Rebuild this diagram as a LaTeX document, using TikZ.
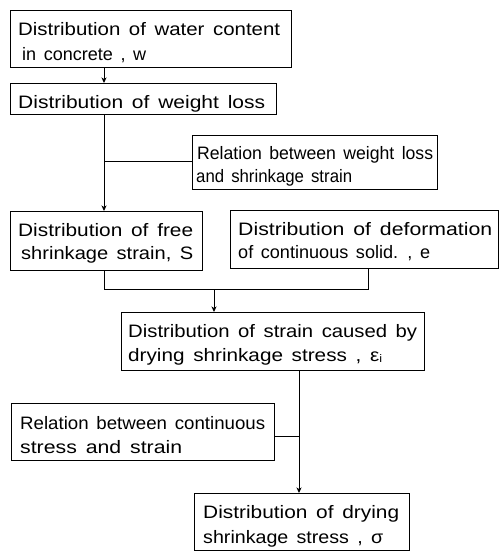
\documentclass[tikz,border=0pt]{standalone}
\usepackage{fontspec}
\usepackage{graphicx}
\setmainfont{Liberation Sans}
\usetikzlibrary{arrows.meta}
\newsavebox\fitbox
\newcommand\fitline[2]{\sbox\fitbox{\spaceskip=0.42em\relax #2}%
  \pgfmathsetmacro\fitsx{#1/\the\wd\fitbox}%
  \scalebox{\fitsx}[1]{\usebox\fitbox}}
\newcommand\subi{{\fontsize{11}{11}\selectfont\raisebox{-1.5pt}{i}}}
\tikzset{
  box/.style={draw, line width=0.9pt, inner sep=0pt, anchor=north west},
  lbl/.style={inner sep=0pt, anchor=base west, font=\fontsize{18}{22}\selectfont},
  conn/.style={line width=0.9pt},
  arr/.style={conn, -{Stealth[length=5.5pt,width=5pt,inset=1.5pt]}}
}
\begin{document}
\begin{tikzpicture}[x=1pt,y=-1pt]
\useasboundingbox (0,0) rectangle (502,551);
% boxes
\node[box, minimum width=281pt, minimum height=57pt] (b1) at (10,10) {};
\node[box, minimum width=266pt, minimum height=31pt] (b2) at (10,83) {};
\node[box, minimum width=245pt, minimum height=54pt] (b3) at (192,135) {};
\node[box, minimum width=192pt, minimum height=59pt] (b4) at (10,211) {};
\node[box, minimum width=268pt, minimum height=58pt] (b5) at (230,210) {};
\node[box, minimum width=303pt, minimum height=58pt] (b6) at (121,312) {};
\node[box, minimum width=263pt, minimum height=57pt] (b7) at (11,403) {};
\node[box, minimum width=215pt, minimum height=57pt] (b8) at (194,493) {};
% labels, one per printed line
\node[lbl] (t1a) at (18,36) {\fitline{262}{Distribution of water content}};
\node[lbl] (t1b) at (22,60) {\fitline{124}{in concrete , w}};
\node[lbl] (t2a) at (18,108) {\fitline{247}{Distribution of weight loss}};
\node[lbl] (t3a) at (197,159) {\fitline{236}{Relation between weight loss}};
\node[lbl] (t3b) at (196,182) {\fitline{156}{and shrinkage strain}};
\node[lbl] (t4a) at (18,236) {\fitline{175}{Distribution of free}};
\node[lbl] (t4b) at (21,259) {\fitline{172}{shrinkage strain, S}};
\node[lbl] (t5a) at (238,235) {\fitline{254}{Distribution of deformation}};
\node[lbl] (t5b) at (238,258) {\fitline{192}{of continuous solid. , e}};
\node[lbl] (t6a) at (128,337) {\fitline{289}{Distribution of strain caused by}};
\node[lbl] (t6b) at (128,361) {\fitline{254}{drying shrinkage stress , ε\subi}};
\node[lbl] (t7a) at (20,429) {\fitline{245}{Relation between continuous}};
\node[lbl] (t7b) at (20,453) {\fitline{162}{stress and strain}};
\node[lbl] (t8a) at (203,518) {\fitline{196}{Distribution of drying}};
\node[lbl] (t8b) at (203,543) {\fitline{180}{shrinkage stress , σ}};
% connector guides
\coordinate (x1) at (104,0);
\coordinate (k3) at (104,161);
\coordinate (x5) at (368,0);
\coordinate (j) at (214,289);
\coordinate (x6) at (299,0);
\coordinate (k7) at (299,436);
% connectors
\draw[arr] (b1.south -| x1) -- (b2.north -| x1);
\draw[arr] (b2.south -| x1) -- (b4.north -| x1);
\draw[conn] (k3 -| b3.west) -- (k3);
\draw[conn] (b4.south -| x1) |- (j);
\draw[conn] (b5.south -| x5) |- (j);
\draw[arr] (j) -- (b6.north -| j);
\draw[arr] (b6.south -| x6) -- (b8.north -| x6);
\draw[conn] (k7 -| b7.east) -- (k7);
\end{tikzpicture}
\end{document}
